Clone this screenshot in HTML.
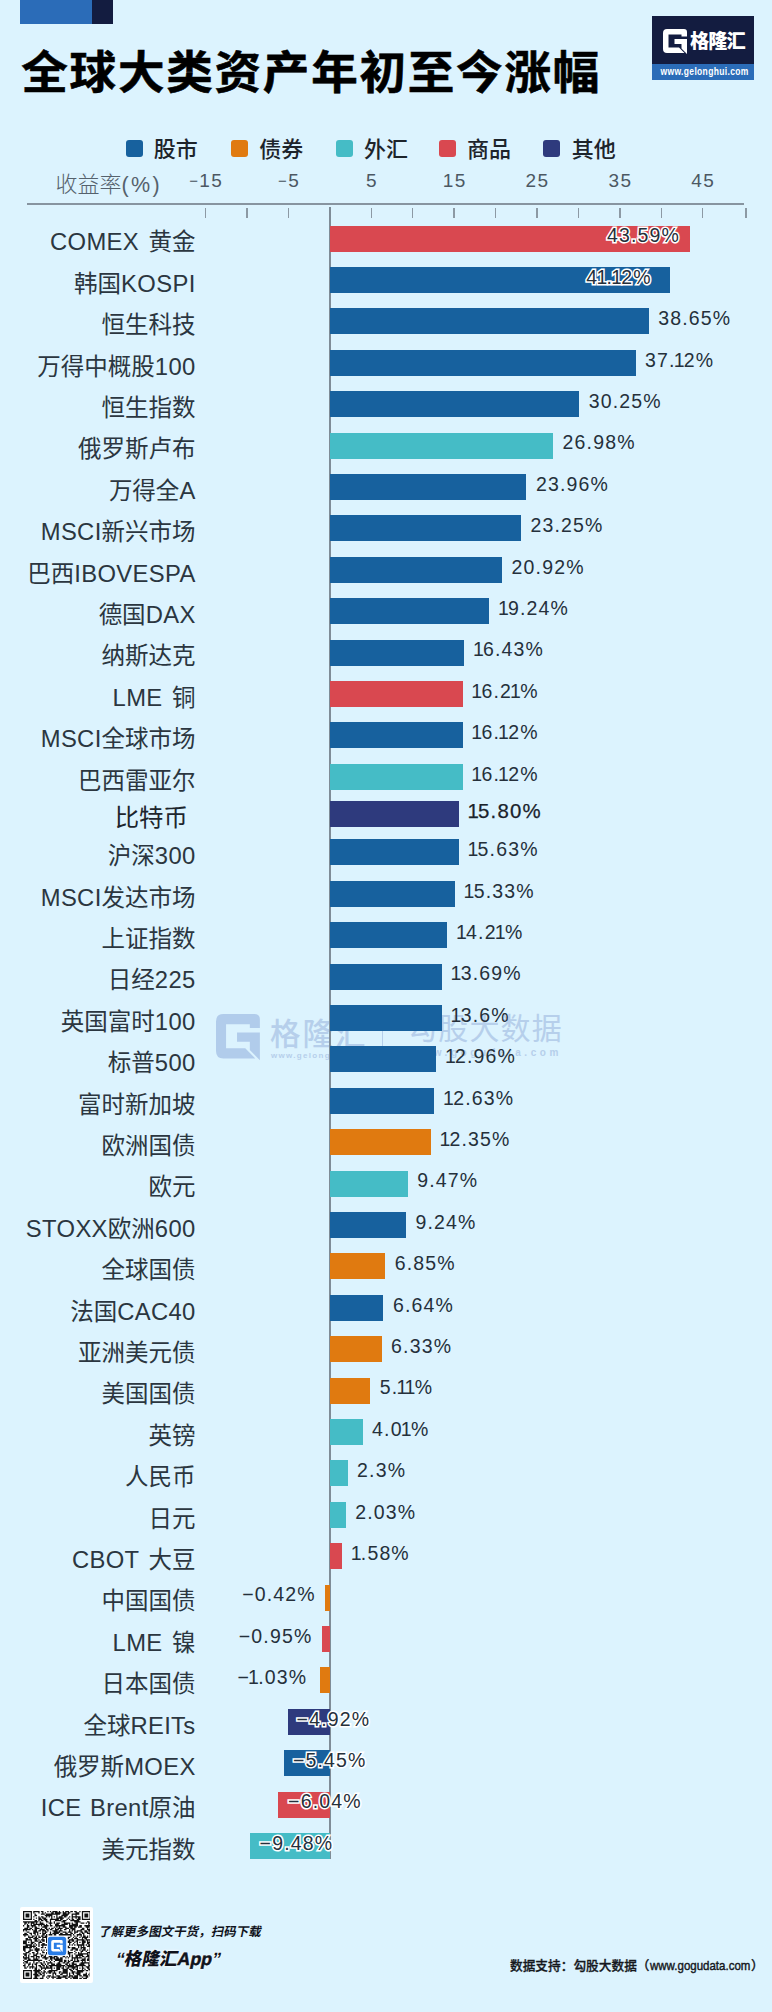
<!DOCTYPE html>
<html lang="zh-CN">
<head>
<meta charset="utf-8">
<title>全球大类资产年初至今涨幅</title>
<style>
html,body{margin:0;padding:0;}
body{width:772px;height:2012px;background:#dcf3fe;position:relative;overflow:hidden;
 font-family:"Liberation Sans","Noto Sans CJK SC",sans-serif;color:#2b3640;}
.abs{position:absolute;}
.deco1{left:20.4px;top:0;width:71.8px;height:24px;background:#2b6cb8;}
.deco2{left:92.2px;top:0;width:20.5px;height:24px;background:#131c40;}
h1{position:absolute;left:21.3px;top:37.5px;margin:0;font-size:46.6px;line-height:70px;font-weight:700;color:#000;
 font-family:"Liberation Sans","Noto Sans CJK SC",sans-serif;white-space:nowrap;letter-spacing:1.72px;
 -webkit-text-stroke:0.6px #000;transform:scaleY(0.965);transform-origin:0 57px;}
.logo{left:652px;top:16px;width:101.5px;height:63.5px;background:#131c40;}
.logo .strip{position:absolute;left:0;top:48px;width:101.5px;height:15.5px;background:#2b6cb8;}
.logo .strip span{position:absolute;right:5px;top:0;color:#fff;font-size:10px;font-weight:700;line-height:15px;white-space:nowrap;
 letter-spacing:0.4px;transform:scaleX(0.85);transform-origin:100% 50%;}
.logo .name{position:absolute;left:38px;top:12.5px;font-size:19.2px;line-height:26px;font-weight:900;color:#fff;white-space:nowrap;letter-spacing:-0.9px;}
.legend{left:0;top:136px;width:772px;height:28px;}
.legend .it{position:absolute;top:0px;height:28px;line-height:28px;font-size:22px;font-weight:500;color:#1d242b;white-space:nowrap;}
.legend .sw{position:absolute;top:4.2px;width:17px;height:16.8px;border-radius:3px;}
.axis{left:0;top:166px;width:772px;height:56px;}
.axis .t{position:absolute;top:0;height:30px;line-height:30px;font-size:19px;letter-spacing:1.4px;margin-left:0.7px;color:#4c5863;white-space:nowrap;transform:translateX(-50%);}
.axis .ttl{position:absolute;left:55.5px;top:4px;line-height:30px;font-size:22px;color:#55616c;white-space:nowrap;font-weight:300;}
.axis .ttl .en{font-size:21.5px;letter-spacing:2.3px;}
.axis .line{position:absolute;left:27px;top:37.3px;width:717px;height:1.5px;background:#8794a0;}
.axis .tick{position:absolute;top:42px;width:1.5px;height:9.5px;background:#8c99a4;}
.zero{left:329.0px;top:207px;width:2px;height:1652px;background:#7f8c97;}
.row{position:absolute;left:0;width:772px;height:26px;}
.row .lab{position:absolute;right:576.4px;top:-0.2px;height:34px;line-height:34px;font-size:23.5px;font-weight:400;white-space:nowrap;word-spacing:2.6px;color:#2b3640;}
.row .lab .en{font-size:23.8px;letter-spacing:0.35px;}
.row .bar{position:absolute;top:0;height:26px;}
.row .val{position:absolute;top:-5.2px;height:30px;line-height:30px;font-size:19.5px;letter-spacing:1.15px;white-space:nowrap;color:#25303b;}
.row.r14 .lab{font-size:24.4px;font-weight:400;color:#1d252d;}
.row.r14 .val{font-size:20.4px;color:#1a222b;-webkit-text-stroke:0.25px #1a222b;}
.row .val.halo{-webkit-text-stroke:3px #fff;paint-order:stroke fill;}
.row .val b{font-weight:400;margin:0 -1.9px;}
.row .val i{font-style:normal;}
.axis .t i{font-style:normal;font-size:15px;position:relative;top:-1.5px;}

.wm{left:0;top:1000px;width:772px;height:80px;color:#b6cfeb;}
.wm .n1{position:absolute;left:270px;top:11.5px;font-size:30.5px;line-height:44px;font-weight:500;letter-spacing:2px;white-space:nowrap;}
.wm .u1{position:absolute;left:271px;top:50px;font-size:8px;line-height:12px;font-weight:700;letter-spacing:1.3px;white-space:nowrap;}
.wm .sep{position:absolute;left:381.5px;top:20px;width:1.3px;height:31px;background:#b6cfeb;}
.wm .n2{position:absolute;left:407px;top:7px;font-size:30px;line-height:44px;font-weight:400;letter-spacing:1.2px;white-space:nowrap;}
.wm .u2{position:absolute;left:411px;top:46px;font-size:10px;line-height:14px;font-weight:700;letter-spacing:3.55px;white-space:nowrap;}
.qr{left:19.7px;top:1907.3px;width:73.8px;height:75.8px;background:#fff;border-radius:2px;}
.ft1{left:96.8px;top:1921.6px;font-size:12.5px;line-height:20px;font-weight:700;color:#10131c;white-space:nowrap;transform:skewX(-12deg);transform-origin:0 100%;}
.ft2{left:113.2px;top:1945.3px;font-size:17.7px;line-height:28px;font-weight:900;color:#10131c;white-space:nowrap;transform:skewX(-12deg);transform-origin:0 100%;
 text-shadow:0 0 3px rgba(255,255,255,.9),0 0 2px rgba(255,255,255,.9);}
.ft3{left:510px;top:1955px;font-size:12.7px;line-height:22px;font-weight:500;color:#15181d;white-space:nowrap;-webkit-text-stroke:0.3px #15181d;}
.ft3 .w{display:inline-block;width:101.5px;height:22px;vertical-align:top;}
.ft3 .w span{display:inline-block;font-size:13.5px;font-weight:400;transform:scaleX(0.852);transform-origin:0 50%;white-space:nowrap;-webkit-text-stroke:0.45px #15181d;}
</style>
</head>
<body>

<div class="abs deco1"></div><div class="abs deco2"></div>
<h1>全球大类资产年初至今涨幅</h1>
<div class="abs logo">
<svg class="abs" style="left:10.6px;top:12.5px" width="24.5" height="25.5" viewBox="0 0 24.5 25.5"><path d="M4,0 H21 Q24,0 24,3 V7.5 H18.5 V5.5 H5.5 V18.5 H16 L21.5,24 H4 Q0,24 0,20 V4 Q0,0 4,0 Z M11.5,10 H24 V25 L18.5,19.5 V15 H11.5 Z" fill="#fff"/></svg>
<div class="name">格隆汇</div><div class="strip"><span>www.gelonghui.com</span></div></div>
<div class="abs legend">
<span class="sw" style="left:126.2px;background:#17619e"></span><span class="it" style="left:153.7px">股市</span>
<span class="sw" style="left:231.4px;background:#e07a10"></span><span class="it" style="left:259.2px">债券</span>
<span class="sw" style="left:335.6px;background:#45bcc6"></span><span class="it" style="left:364.0px">外汇</span>
<span class="sw" style="left:438.7px;background:#d94850"></span><span class="it" style="left:466.9px">商品</span>
<span class="sw" style="left:542.5px;background:#2e3a7d"></span><span class="it" style="left:571.8px">其他</span>
</div>
<div class="abs axis"><span class="ttl">收益率<span class="en">(%)</span></span>
<span class="t" style="left:205.5px"><i>−</i>15</span>
<span class="t" style="left:288.4px"><i>−</i>5</span>
<span class="t" style="left:371.2px">5</span>
<span class="t" style="left:454.1px">15</span>
<span class="t" style="left:536.9px">25</span>
<span class="t" style="left:619.8px">35</span>
<span class="t" style="left:702.6px">45</span>
<div class="line"></div>
<i class="tick" style="left:204.8px"></i>
<i class="tick" style="left:246.2px"></i>
<i class="tick" style="left:287.6px"></i>
<i class="tick" style="left:370.5px"></i>
<i class="tick" style="left:411.9px"></i>
<i class="tick" style="left:453.3px"></i>
<i class="tick" style="left:494.8px"></i>
<i class="tick" style="left:536.2px"></i>
<i class="tick" style="left:577.6px"></i>
<i class="tick" style="left:619.0px"></i>
<i class="tick" style="left:660.5px"></i>
<i class="tick" style="left:701.9px"></i>
<i class="tick" style="left:745.0px"></i>
</div>
<div class="abs wm">
<svg class="abs" style="left:216px;top:14.2px" width="44.8" height="47.2" viewBox="0 0 24.5 25.5" preserveAspectRatio="none"><path d="M4,0 H21 Q24,0 24,3 V7.5 H18.5 V5.5 H5.5 V18.5 H16 L21.5,24 H4 Q0,24 0,20 V4 Q0,0 4,0 Z M11.5,10 H24 V25 L18.5,19.5 V15 H11.5 Z" fill="#b1cceb"/></svg>
<div class="n1">格隆汇</div><div class="u1">www.gelonghui.com</div><div class="sep"></div>
<div class="n2">勾股大数据</div><div class="u2">www.gogudata.com</div>
</div>
<div class="abs zero"></div>
<div class="row" style="top:225.5px">
<span class="lab"><span class="en">COMEX </span>黄金</span>
<span class="bar" style="left:330.2px;width:360.1px;background:#d94850"></span>
<span class="val halo" style="left:607.0px">43.59%</span>
</div>
<div class="row" style="top:266.9px">
<span class="lab">韩国<span class="en">KOSPI</span></span>
<span class="bar" style="left:330.2px;width:339.4px;background:#17619e"></span>
<span class="val halo" style="left:586.3px">4<b>1</b>.<b>1</b>2%</span>
</div>
<div class="row" style="top:308.3px">
<span class="lab">恒生科技</span>
<span class="bar" style="left:330.2px;width:318.6px;background:#17619e"></span>
<span class="val" style="left:658.2px">38.65%</span>
</div>
<div class="row" style="top:349.7px">
<span class="lab">万得中概股<span class="en">100</span></span>
<span class="bar" style="left:330.2px;width:305.4px;background:#17619e"></span>
<span class="val" style="left:645.0px">37.<b>1</b>2%</span>
</div>
<div class="row" style="top:391.1px">
<span class="lab">恒生指数</span>
<span class="bar" style="left:330.2px;width:249.2px;background:#17619e"></span>
<span class="val" style="left:588.8px">30.25%</span>
</div>
<div class="row" style="top:432.5px">
<span class="lab">俄罗斯卢布</span>
<span class="bar" style="left:330.2px;width:223.0px;background:#45bcc6"></span>
<span class="val" style="left:562.6px">26.98%</span>
</div>
<div class="row" style="top:473.9px">
<span class="lab">万得全<span class="en">A</span></span>
<span class="bar" style="left:330.2px;width:196.3px;background:#17619e"></span>
<span class="val" style="left:535.9px">23.96%</span>
</div>
<div class="row" style="top:515.3px">
<span class="lab"><span class="en">MSCI</span>新兴市场</span>
<span class="bar" style="left:330.2px;width:190.9px;background:#17619e"></span>
<span class="val" style="left:530.5px">23.25%</span>
</div>
<div class="row" style="top:556.7px">
<span class="lab">巴西<span class="en">IBOVESPA</span></span>
<span class="bar" style="left:330.2px;width:172.0px;background:#17619e"></span>
<span class="val" style="left:511.6px">20.92%</span>
</div>
<div class="row" style="top:598.1px">
<span class="lab">德国<span class="en">DAX</span></span>
<span class="bar" style="left:330.2px;width:159.0px;background:#17619e"></span>
<span class="val" style="left:499.8px"><b>1</b>9.24%</span>
</div>
<div class="row" style="top:639.5px">
<span class="lab">纳斯达克</span>
<span class="bar" style="left:330.2px;width:134.0px;background:#17619e"></span>
<span class="val" style="left:474.8px"><b>1</b>6.43%</span>
</div>
<div class="row" style="top:680.9px">
<span class="lab"><span class="en">LME </span>铜</span>
<span class="bar" style="left:330.2px;width:132.4px;background:#d94850"></span>
<span class="val" style="left:473.2px"><b>1</b>6.2<b>1</b>%</span>
</div>
<div class="row" style="top:722.3px">
<span class="lab"><span class="en">MSCI</span>全球市场</span>
<span class="bar" style="left:330.2px;width:132.4px;background:#17619e"></span>
<span class="val" style="left:473.2px"><b>1</b>6.<b>1</b>2%</span>
</div>
<div class="row" style="top:763.7px">
<span class="lab">巴西雷亚尔</span>
<span class="bar" style="left:330.2px;width:132.4px;background:#45bcc6"></span>
<span class="val" style="left:473.2px"><b>1</b>6.<b>1</b>2%</span>
</div>
<div class="row r14" style="top:801.0px">
<span class="lab" style="right:584.2px">比特币</span>
<span class="bar" style="left:330.2px;width:128.6px;background:#2e3a7d"></span>
<span class="val" style="left:469.4px"><b>1</b>5.80%</span>
</div>
<div class="row" style="top:839.0px">
<span class="lab">沪深<span class="en">300</span></span>
<span class="bar" style="left:330.2px;width:128.6px;background:#17619e"></span>
<span class="val" style="left:469.4px"><b>1</b>5.63%</span>
</div>
<div class="row" style="top:880.8px">
<span class="lab"><span class="en">MSCI</span>发达市场</span>
<span class="bar" style="left:330.2px;width:124.7px;background:#17619e"></span>
<span class="val" style="left:465.5px"><b>1</b>5.33%</span>
</div>
<div class="row" style="top:922.2px">
<span class="lab">上证指数</span>
<span class="bar" style="left:330.2px;width:117.1px;background:#17619e"></span>
<span class="val" style="left:457.9px"><b>1</b>4.2<b>1</b>%</span>
</div>
<div class="row" style="top:963.6px">
<span class="lab">日经<span class="en">225</span></span>
<span class="bar" style="left:330.2px;width:111.7px;background:#17619e"></span>
<span class="val" style="left:452.5px"><b>1</b>3.69%</span>
</div>
<div class="row" style="top:1005.0px">
<span class="lab">英国富时<span class="en">100</span></span>
<span class="bar" style="left:330.2px;width:111.7px;background:#17619e"></span>
<span class="val" style="left:452.5px"><b>1</b>3.6%</span>
</div>
<div class="row" style="top:1046.4px">
<span class="lab">标普<span class="en">500</span></span>
<span class="bar" style="left:330.2px;width:106.0px;background:#17619e"></span>
<span class="val" style="left:446.8px"><b>1</b>2.96%</span>
</div>
<div class="row" style="top:1087.8px">
<span class="lab">富时新加坡</span>
<span class="bar" style="left:330.2px;width:104.2px;background:#17619e"></span>
<span class="val" style="left:445.0px"><b>1</b>2.63%</span>
</div>
<div class="row" style="top:1129.2px">
<span class="lab">欧洲国债</span>
<span class="bar" style="left:330.2px;width:100.5px;background:#e07a10"></span>
<span class="val" style="left:441.3px"><b>1</b>2.35%</span>
</div>
<div class="row" style="top:1170.6px">
<span class="lab">欧元</span>
<span class="bar" style="left:330.2px;width:77.7px;background:#45bcc6"></span>
<span class="val" style="left:417.3px">9.47%</span>
</div>
<div class="row" style="top:1212.0px">
<span class="lab"><span class="en">STOXX</span>欧洲<span class="en">600</span></span>
<span class="bar" style="left:330.2px;width:75.8px;background:#17619e"></span>
<span class="val" style="left:415.4px">9.24%</span>
</div>
<div class="row" style="top:1253.4px">
<span class="lab">全球国债</span>
<span class="bar" style="left:330.2px;width:55.1px;background:#e07a10"></span>
<span class="val" style="left:394.7px">6.85%</span>
</div>
<div class="row" style="top:1294.8px">
<span class="lab">法国<span class="en">CAC40</span></span>
<span class="bar" style="left:330.2px;width:53.3px;background:#17619e"></span>
<span class="val" style="left:392.9px">6.64%</span>
</div>
<div class="row" style="top:1336.2px">
<span class="lab">亚洲美元债</span>
<span class="bar" style="left:330.2px;width:51.5px;background:#e07a10"></span>
<span class="val" style="left:391.1px">6.33%</span>
</div>
<div class="row" style="top:1377.6px">
<span class="lab">美国国债</span>
<span class="bar" style="left:330.2px;width:40.1px;background:#e07a10"></span>
<span class="val" style="left:379.7px">5.<b>1</b><b>1</b>%</span>
</div>
<div class="row" style="top:1419.0px">
<span class="lab">英镑</span>
<span class="bar" style="left:330.2px;width:32.5px;background:#45bcc6"></span>
<span class="val" style="left:372.1px">4.0<b>1</b>%</span>
</div>
<div class="row" style="top:1460.4px">
<span class="lab">人民币</span>
<span class="bar" style="left:330.2px;width:17.5px;background:#45bcc6"></span>
<span class="val" style="left:357.1px">2.3%</span>
</div>
<div class="row" style="top:1501.8px">
<span class="lab">日元</span>
<span class="bar" style="left:330.2px;width:15.6px;background:#45bcc6"></span>
<span class="val" style="left:355.2px">2.03%</span>
</div>
<div class="row" style="top:1543.2px">
<span class="lab"><span class="en">CBOT </span>大豆</span>
<span class="bar" style="left:330.2px;width:11.8px;background:#d94850"></span>
<span class="val" style="left:352.6px"><b>1</b>.58%</span>
</div>
<div class="row" style="top:1584.6px">
<span class="lab">中国国债</span>
<span class="bar" style="left:324.5px;width:5.3px;background:#e07a10"></span>
<span class="val" style="left:242.2px"><i>−</i>0.42%</span>
</div>
<div class="row" style="top:1626.0px">
<span class="lab"><span class="en">LME </span>镍</span>
<span class="bar" style="left:321.7px;width:8.1px;background:#d94850"></span>
<span class="val" style="left:238.8px"><i>−</i>0.95%</span>
</div>
<div class="row" style="top:1667.4px">
<span class="lab">日本国债</span>
<span class="bar" style="left:319.7px;width:10.1px;background:#e07a10"></span>
<span class="val" style="left:237.4px"><i>−</i><b>1</b>.03%</span>
</div>
<div class="row" style="top:1708.8px">
<span class="lab">全球<span class="en">REITs</span></span>
<span class="bar" style="left:287.8px;width:42.0px;background:#2e3a7d"></span>
<span class="val halo" style="left:296.6px"><i>−</i>4.92%</span>
</div>
<div class="row" style="top:1750.2px">
<span class="lab">俄罗斯<span class="en">MOEX</span></span>
<span class="bar" style="left:284.1px;width:45.7px;background:#17619e"></span>
<span class="val halo" style="left:292.9px"><i>−</i>5.45%</span>
</div>
<div class="row" style="top:1791.6px">
<span class="lab" style="word-spacing:1.5px"><span class="en">ICE Brent</span>原油</span>
<span class="bar" style="left:278.4px;width:51.4px;background:#d94850"></span>
<span class="val halo" style="left:288.1px"><i>−</i>6.04%</span>
</div>
<div class="row" style="top:1833.0px">
<span class="lab">美元指数</span>
<span class="bar" style="left:250.2px;width:79.6px;background:#45bcc6"></span>
<span class="val halo" style="left:259.6px"><i>−</i>9.48%</span>
</div>
<div class="abs qr">
<svg class="abs" style="left:3px;top:3.9px" width="67.8" height="68" viewBox="0 0 53 53" preserveAspectRatio="none"><path d="M0 0h7v1h-7zM8 0h5v1h-5zM14 0h2v1h-2zM19 0h1v1h-1zM21 0h1v1h-1zM23 0h4v1h-4zM28 0h1v1h-1zM31 0h1v1h-1zM33 0h3v1h-3zM37 0h2v1h-2zM40 0h2v1h-2zM44 0h1v1h-1zM46 0h7v1h-7zM0 1h1v1h-1zM6 1h1v1h-1zM8 1h1v1h-1zM12 1h1v1h-1zM15 1h1v1h-1zM17 1h1v1h-1zM22 1h2v1h-2zM25 1h5v1h-5zM31 1h3v1h-3zM35 1h2v1h-2zM41 1h3v1h-3zM46 1h1v1h-1zM52 1h1v1h-1zM0 2h1v1h-1zM2 2h3v1h-3zM6 2h1v1h-1zM9 2h1v1h-1zM14 2h3v1h-3zM18 2h11v1h-11zM31 2h5v1h-5zM38 2h6v1h-6zM46 2h1v1h-1zM48 2h3v1h-3zM52 2h1v1h-1zM0 3h1v1h-1zM2 3h3v1h-3zM6 3h1v1h-1zM9 3h2v1h-2zM17 3h6v1h-6zM26 3h1v1h-1zM30 3h5v1h-5zM38 3h1v1h-1zM41 3h1v1h-1zM46 3h1v1h-1zM48 3h3v1h-3zM52 3h1v1h-1zM0 4h1v1h-1zM2 4h3v1h-3zM6 4h1v1h-1zM8 4h1v1h-1zM12 4h1v1h-1zM14 4h2v1h-2zM18 4h1v1h-1zM20 4h1v1h-1zM22 4h1v1h-1zM24 4h1v1h-1zM26 4h1v1h-1zM28 4h3v1h-3zM32 4h2v1h-2zM36 4h1v1h-1zM38 4h7v1h-7zM46 4h1v1h-1zM48 4h3v1h-3zM52 4h1v1h-1zM0 5h1v1h-1zM6 5h1v1h-1zM10 5h1v1h-1zM12 5h2v1h-2zM15 5h3v1h-3zM22 5h1v1h-1zM26 5h6v1h-6zM35 5h1v1h-1zM38 5h1v1h-1zM41 5h1v1h-1zM43 5h2v1h-2zM46 5h1v1h-1zM52 5h1v1h-1zM0 6h7v1h-7zM8 6h1v1h-1zM12 6h3v1h-3zM16 6h3v1h-3zM21 6h7v1h-7zM29 6h2v1h-2zM34 6h1v1h-1zM36 6h1v1h-1zM38 6h2v1h-2zM42 6h3v1h-3zM46 6h7v1h-7zM9 7h2v1h-2zM12 7h1v1h-1zM14 7h2v1h-2zM17 7h2v1h-2zM21 7h1v1h-1zM25 7h5v1h-5zM31 7h3v1h-3zM37 7h7v1h-7zM0 8h12v1h-12zM13 8h1v1h-1zM18 8h2v1h-2zM21 8h1v1h-1zM24 8h1v1h-1zM30 8h3v1h-3zM40 8h5v1h-5zM50 8h2v1h-2zM1 9h2v1h-2zM4 9h1v1h-1zM6 9h3v1h-3zM10 9h1v1h-1zM13 9h3v1h-3zM20 9h3v1h-3zM24 9h1v1h-1zM26 9h3v1h-3zM32 9h5v1h-5zM38 9h1v1h-1zM41 9h2v1h-2zM45 9h3v1h-3zM49 9h1v1h-1zM51 9h2v1h-2zM1 10h1v1h-1zM3 10h1v1h-1zM6 10h1v1h-1zM8 10h9v1h-9zM18 10h1v1h-1zM21 10h1v1h-1zM25 10h3v1h-3zM30 10h5v1h-5zM36 10h1v1h-1zM38 10h5v1h-5zM51 10h1v1h-1zM0 11h1v1h-1zM3 11h2v1h-2zM6 11h4v1h-4zM12 11h1v1h-1zM14 11h1v1h-1zM16 11h4v1h-4zM21 11h2v1h-2zM25 11h8v1h-8zM36 11h7v1h-7zM44 11h2v1h-2zM48 11h5v1h-5zM3 12h2v1h-2zM7 12h1v1h-1zM9 12h2v1h-2zM15 12h4v1h-4zM24 12h1v1h-1zM26 12h1v1h-1zM28 12h1v1h-1zM31 12h3v1h-3zM36 12h3v1h-3zM40 12h2v1h-2zM43 12h3v1h-3zM49 12h3v1h-3zM1 13h3v1h-3zM5 13h2v1h-2zM9 13h4v1h-4zM14 13h1v1h-1zM17 13h2v1h-2zM20 13h1v1h-1zM22 13h2v1h-2zM25 13h1v1h-1zM27 13h4v1h-4zM33 13h3v1h-3zM37 13h4v1h-4zM46 13h2v1h-2zM50 13h1v1h-1zM52 13h1v1h-1zM0 14h6v1h-6zM7 14h1v1h-1zM9 14h2v1h-2zM13 14h4v1h-4zM18 14h2v1h-2zM21 14h2v1h-2zM25 14h3v1h-3zM29 14h1v1h-1zM32 14h2v1h-2zM36 14h1v1h-1zM38 14h3v1h-3zM45 14h3v1h-3zM50 14h3v1h-3zM0 15h1v1h-1zM2 15h1v1h-1zM8 15h3v1h-3zM12 15h2v1h-2zM15 15h3v1h-3zM19 15h1v1h-1zM23 15h4v1h-4zM28 15h3v1h-3zM36 15h1v1h-1zM38 15h1v1h-1zM40 15h1v1h-1zM42 15h4v1h-4zM48 15h2v1h-2zM51 15h2v1h-2zM3 16h2v1h-2zM8 16h4v1h-4zM15 16h1v1h-1zM17 16h2v1h-2zM21 16h1v1h-1zM24 16h5v1h-5zM31 16h3v1h-3zM35 16h3v1h-3zM40 16h3v1h-3zM45 16h2v1h-2zM48 16h3v1h-3zM52 16h1v1h-1zM1 17h2v1h-2zM5 17h2v1h-2zM8 17h2v1h-2zM11 17h1v1h-1zM13 17h1v1h-1zM15 17h3v1h-3zM21 17h1v1h-1zM23 17h5v1h-5zM29 17h2v1h-2zM33 17h2v1h-2zM37 17h2v1h-2zM40 17h1v1h-1zM44 17h1v1h-1zM46 17h2v1h-2zM50 17h3v1h-3zM0 18h4v1h-4zM6 18h1v1h-1zM9 18h1v1h-1zM11 18h1v1h-1zM15 18h2v1h-2zM18 18h1v1h-1zM20 18h3v1h-3zM24 18h2v1h-2zM28 18h10v1h-10zM39 18h1v1h-1zM42 18h4v1h-4zM47 18h1v1h-1zM52 18h1v1h-1zM1 19h1v1h-1zM4 19h1v1h-1zM7 19h2v1h-2zM10 19h1v1h-1zM12 19h1v1h-1zM14 19h2v1h-2zM17 19h2v1h-2zM37 19h1v1h-1zM40 19h1v1h-1zM42 19h1v1h-1zM45 19h1v1h-1zM47 19h2v1h-2zM50 19h1v1h-1zM52 19h1v1h-1zM4 20h4v1h-4zM9 20h2v1h-2zM12 20h2v1h-2zM15 20h4v1h-4zM35 20h2v1h-2zM39 20h1v1h-1zM41 20h1v1h-1zM44 20h1v1h-1zM46 20h5v1h-5zM52 20h1v1h-1zM2 21h2v1h-2zM5 21h1v1h-1zM8 21h4v1h-4zM15 21h1v1h-1zM18 21h1v1h-1zM35 21h1v1h-1zM38 21h1v1h-1zM40 21h3v1h-3zM46 21h1v1h-1zM48 21h2v1h-2zM2 22h5v1h-5zM9 22h2v1h-2zM12 22h1v1h-1zM14 22h3v1h-3zM18 22h1v1h-1zM36 22h4v1h-4zM42 22h6v1h-6zM49 22h4v1h-4zM0 23h3v1h-3zM6 23h1v1h-1zM9 23h3v1h-3zM13 23h1v1h-1zM15 23h2v1h-2zM18 23h1v1h-1zM35 23h2v1h-2zM38 23h2v1h-2zM41 23h2v1h-2zM46 23h3v1h-3zM50 23h1v1h-1zM52 23h1v1h-1zM0 24h3v1h-3zM4 24h1v1h-1zM6 24h3v1h-3zM12 24h3v1h-3zM18 24h1v1h-1zM35 24h3v1h-3zM40 24h1v1h-1zM42 24h1v1h-1zM44 24h1v1h-1zM46 24h3v1h-3zM50 24h3v1h-3zM0 25h3v1h-3zM6 25h2v1h-2zM9 25h1v1h-1zM12 25h1v1h-1zM15 25h2v1h-2zM36 25h1v1h-1zM39 25h1v1h-1zM42 25h1v1h-1zM46 25h2v1h-2zM50 25h2v1h-2zM2 26h5v1h-5zM8 26h1v1h-1zM10 26h1v1h-1zM12 26h1v1h-1zM14 26h5v1h-5zM36 26h1v1h-1zM38 26h1v1h-1zM40 26h1v1h-1zM42 26h6v1h-6zM49 26h1v1h-1zM51 26h2v1h-2zM0 27h4v1h-4zM5 27h5v1h-5zM12 27h1v1h-1zM15 27h1v1h-1zM35 27h1v1h-1zM43 27h1v1h-1zM45 27h1v1h-1zM47 27h1v1h-1zM50 27h3v1h-3zM0 28h7v1h-7zM8 28h1v1h-1zM10 28h1v1h-1zM14 28h2v1h-2zM17 28h1v1h-1zM35 28h2v1h-2zM38 28h3v1h-3zM43 28h1v1h-1zM45 28h4v1h-4zM52 28h1v1h-1zM0 29h2v1h-2zM5 29h1v1h-1zM9 29h4v1h-4zM38 29h5v1h-5zM45 29h1v1h-1zM47 29h2v1h-2zM52 29h1v1h-1zM0 30h2v1h-2zM5 30h3v1h-3zM9 30h4v1h-4zM14 30h1v1h-1zM16 30h1v1h-1zM18 30h1v1h-1zM37 30h2v1h-2zM41 30h2v1h-2zM44 30h1v1h-1zM46 30h3v1h-3zM50 30h1v1h-1zM52 30h1v1h-1zM1 31h1v1h-1zM4 31h2v1h-2zM10 31h2v1h-2zM15 31h1v1h-1zM35 31h1v1h-1zM40 31h1v1h-1zM45 31h2v1h-2zM49 31h1v1h-1zM52 31h1v1h-1zM2 32h3v1h-3zM7 32h2v1h-2zM11 32h1v1h-1zM15 32h2v1h-2zM18 32h1v1h-1zM35 32h4v1h-4zM41 32h1v1h-1zM43 32h1v1h-1zM45 32h1v1h-1zM50 32h3v1h-3zM0 33h3v1h-3zM5 33h1v1h-1zM8 33h1v1h-1zM10 33h2v1h-2zM13 33h1v1h-1zM18 33h1v1h-1zM35 33h2v1h-2zM40 33h1v1h-1zM43 33h8v1h-8zM52 33h1v1h-1zM1 34h2v1h-2zM4 34h1v1h-1zM8 34h3v1h-3zM14 34h2v1h-2zM17 34h1v1h-1zM36 34h1v1h-1zM38 34h1v1h-1zM41 34h6v1h-6zM50 34h2v1h-2zM0 35h1v1h-1zM2 35h1v1h-1zM4 35h1v1h-1zM6 35h3v1h-3zM10 35h3v1h-3zM14 35h1v1h-1zM16 35h2v1h-2zM20 35h3v1h-3zM24 35h3v1h-3zM31 35h2v1h-2zM34 35h1v1h-1zM36 35h1v1h-1zM38 35h1v1h-1zM41 35h2v1h-2zM44 35h1v1h-1zM46 35h2v1h-2zM49 35h3v1h-3zM0 36h5v1h-5zM8 36h1v1h-1zM10 36h1v1h-1zM12 36h1v1h-1zM15 36h5v1h-5zM21 36h4v1h-4zM26 36h2v1h-2zM29 36h2v1h-2zM33 36h1v1h-1zM35 36h1v1h-1zM38 36h8v1h-8zM48 36h1v1h-1zM51 36h1v1h-1zM1 37h2v1h-2zM4 37h2v1h-2zM8 37h4v1h-4zM17 37h2v1h-2zM21 37h2v1h-2zM24 37h7v1h-7zM38 37h1v1h-1zM40 37h1v1h-1zM42 37h1v1h-1zM46 37h3v1h-3zM50 37h2v1h-2zM0 38h1v1h-1zM3 38h12v1h-12zM20 38h1v1h-1zM22 38h1v1h-1zM25 38h6v1h-6zM32 38h2v1h-2zM35 38h1v1h-1zM37 38h2v1h-2zM40 38h1v1h-1zM42 38h2v1h-2zM45 38h4v1h-4zM50 38h2v1h-2zM1 39h3v1h-3zM8 39h1v1h-1zM12 39h1v1h-1zM16 39h1v1h-1zM18 39h1v1h-1zM21 39h1v1h-1zM24 39h1v1h-1zM28 39h3v1h-3zM32 39h2v1h-2zM35 39h2v1h-2zM39 39h5v1h-5zM46 39h1v1h-1zM48 39h1v1h-1zM52 39h1v1h-1zM0 40h1v1h-1zM2 40h2v1h-2zM5 40h1v1h-1zM8 40h1v1h-1zM10 40h2v1h-2zM13 40h2v1h-2zM16 40h1v1h-1zM19 40h4v1h-4zM27 40h2v1h-2zM31 40h2v1h-2zM34 40h2v1h-2zM38 40h2v1h-2zM45 40h7v1h-7zM1 41h1v1h-1zM4 41h2v1h-2zM7 41h1v1h-1zM9 41h2v1h-2zM14 41h2v1h-2zM17 41h1v1h-1zM19 41h1v1h-1zM22 41h3v1h-3zM26 41h4v1h-4zM33 41h2v1h-2zM36 41h1v1h-1zM38 41h4v1h-4zM44 41h4v1h-4zM51 41h1v1h-1zM0 42h2v1h-2zM4 42h1v1h-1zM7 42h1v1h-1zM10 42h1v1h-1zM12 42h2v1h-2zM15 42h2v1h-2zM18 42h1v1h-1zM20 42h13v1h-13zM34 42h6v1h-6zM41 42h8v1h-8zM51 42h2v1h-2zM1 43h1v1h-1zM3 43h1v1h-1zM5 43h4v1h-4zM10 43h1v1h-1zM13 43h2v1h-2zM16 43h1v1h-1zM18 43h2v1h-2zM21 43h2v1h-2zM26 43h4v1h-4zM31 43h1v1h-1zM33 43h1v1h-1zM35 43h8v1h-8zM46 43h1v1h-1zM49 43h3v1h-3zM1 44h2v1h-2zM5 44h1v1h-1zM7 44h1v1h-1zM9 44h2v1h-2zM14 44h9v1h-9zM24 44h1v1h-1zM26 44h3v1h-3zM30 44h2v1h-2zM34 44h2v1h-2zM38 44h3v1h-3zM42 44h1v1h-1zM44 44h1v1h-1zM46 44h2v1h-2zM50 44h2v1h-2zM9 45h2v1h-2zM12 45h1v1h-1zM14 45h1v1h-1zM17 45h1v1h-1zM22 45h1v1h-1zM26 45h3v1h-3zM31 45h4v1h-4zM36 45h2v1h-2zM39 45h1v1h-1zM41 45h2v1h-2zM46 45h1v1h-1zM48 45h1v1h-1zM51 45h2v1h-2zM0 46h7v1h-7zM8 46h6v1h-6zM16 46h1v1h-1zM20 46h7v1h-7zM31 46h4v1h-4zM37 46h2v1h-2zM42 46h6v1h-6zM49 46h2v1h-2zM52 46h1v1h-1zM0 47h1v1h-1zM6 47h1v1h-1zM9 47h4v1h-4zM14 47h1v1h-1zM16 47h2v1h-2zM19 47h4v1h-4zM24 47h1v1h-1zM28 47h2v1h-2zM31 47h4v1h-4zM38 47h3v1h-3zM42 47h5v1h-5zM0 48h1v1h-1zM2 48h3v1h-3zM6 48h1v1h-1zM9 48h2v1h-2zM12 48h2v1h-2zM15 48h2v1h-2zM18 48h1v1h-1zM20 48h2v1h-2zM23 48h3v1h-3zM28 48h1v1h-1zM30 48h5v1h-5zM36 48h1v1h-1zM38 48h2v1h-2zM41 48h4v1h-4zM49 48h1v1h-1zM52 48h1v1h-1zM0 49h1v1h-1zM2 49h3v1h-3zM6 49h1v1h-1zM8 49h4v1h-4zM13 49h2v1h-2zM16 49h1v1h-1zM23 49h1v1h-1zM25 49h1v1h-1zM29 49h2v1h-2zM34 49h1v1h-1zM36 49h1v1h-1zM39 49h1v1h-1zM42 49h3v1h-3zM47 49h3v1h-3zM51 49h1v1h-1zM0 50h1v1h-1zM2 50h3v1h-3zM6 50h1v1h-1zM9 50h4v1h-4zM15 50h2v1h-2zM19 50h3v1h-3zM23 50h1v1h-1zM26 50h3v1h-3zM31 50h4v1h-4zM36 50h3v1h-3zM40 50h3v1h-3zM44 50h2v1h-2zM47 50h4v1h-4zM52 50h1v1h-1zM0 51h1v1h-1zM6 51h1v1h-1zM9 51h2v1h-2zM15 51h1v1h-1zM18 51h1v1h-1zM20 51h1v1h-1zM22 51h4v1h-4zM27 51h7v1h-7zM35 51h2v1h-2zM38 51h5v1h-5zM46 51h1v1h-1zM49 51h2v1h-2zM0 52h7v1h-7zM8 52h4v1h-4zM13 52h3v1h-3zM19 52h1v1h-1zM23 52h1v1h-1zM26 52h4v1h-4zM33 52h2v1h-2zM37 52h1v1h-1zM39 52h4v1h-4zM44 52h2v1h-2zM47 52h3v1h-3z" fill="#111"/></svg>
<svg class="abs" style="left:27.3px;top:28.6px" width="20" height="20" viewBox="0 0 20 20"><rect x="0" y="0" width="20" height="20" rx="3.2" fill="#fff"/><rect x="0.8" y="0.8" width="18.4" height="18.4" rx="2.8" fill="#2a7de6"/><g transform="translate(4.2,4) scale(0.48)"><path d="M4,0 H21 Q24,0 24,3 V7.5 H18.5 V5.5 H5.5 V18.5 H16 L21.5,24 H4 Q0,24 0,20 V4 Q0,0 4,0 Z M11.5,10 H24 V25 L18.5,19.5 V15 H11.5 Z" fill="#fff"/></g></svg>
</div>
<div class="abs ft1">了解更多图文干货，扫码下载</div>
<div class="abs ft2">“格隆汇<span style="-webkit-text-stroke:0.5px #10131c">App</span>”</div>
<div class="abs ft3">数据支持：勾股大数据（<span class="w"><span>www.gogudata.com</span></span>）</div>
</body></html>
